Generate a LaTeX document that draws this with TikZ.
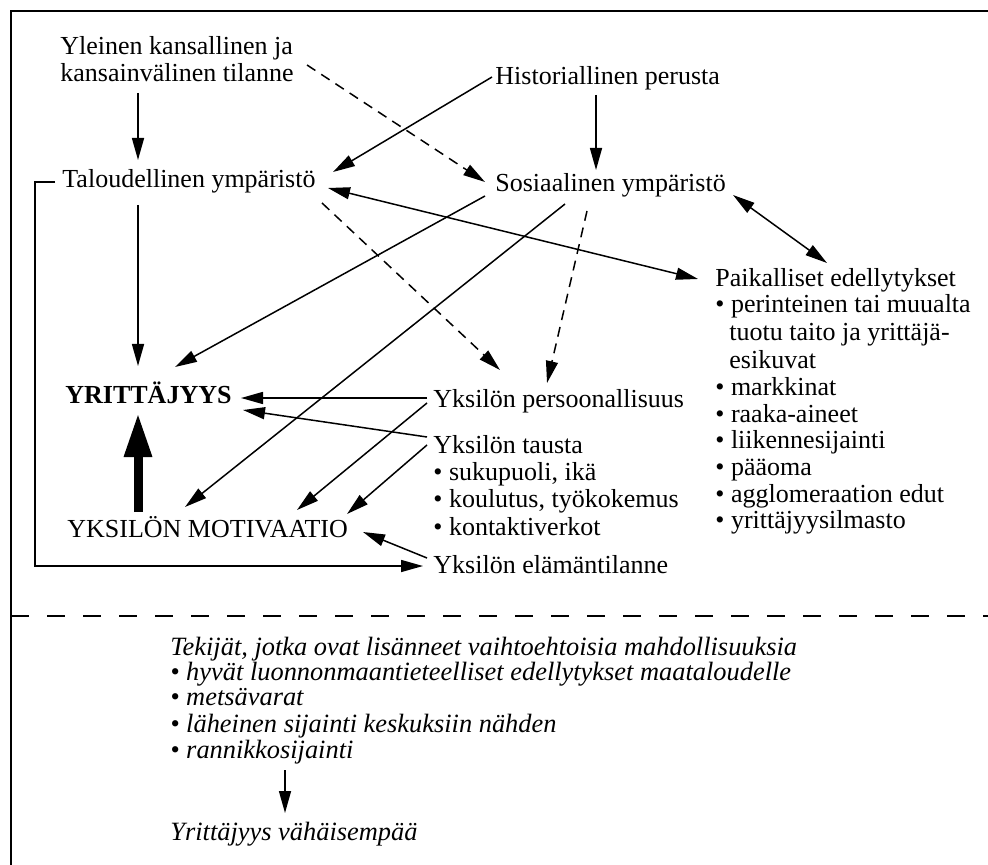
\documentclass[tikz,border=0pt]{standalone}
\usepackage{fontspec}
\setmainfont{Liberation Serif}
\usetikzlibrary{arrows.meta,calc}
\begin{document}
\begin{tikzpicture}[x=0.5pt,y=-0.5pt,
  txt/.style={anchor=base west, inner sep=0pt, font=\fontsize{13pt}{15pt}\selectfont},
  btx/.style={txt, font=\fontsize{13pt}{15pt}\selectfont\bfseries},
  itx/.style={txt, font=\fontsize{13.2pt}{15pt}\selectfont\itshape},
  con/.style={line width=0.75pt, -{Triangle[length=11pt,width=6pt]}},
  dcon/.style={con, dash pattern=on 5pt off 3.5pt},
  both/.style={line width=0.75pt, {Triangle[length=11pt,width=6pt]}-{Triangle[length=11pt,width=6pt]}},
  thick arrow/.style={line width=4.5pt, -{Triangle[length=22pt,width=13pt]}},
  frame/.style={line width=1pt}
]
\useasboundingbox (0,0) rectangle (988,865);
% frame and separator
\draw[frame] (11,865) -- (11,11) -- (988,11);
\draw[frame, dash pattern=on 9pt off 9pt] (11,616) -- (988,616);

% nodes
\node[txt] (yle1) at (60,55) {Yleinen kansallinen ja};
\node[txt] (yle2) at (60,82) {kansainvälinen tilanne};
\node[txt] (hist) at (495,85) {Historiallinen perusta};
\node[txt] (talo) at (62,188) {Taloudellinen ympäristö};
\node[txt] (sos) at (495,192) {Sosiaalinen ympäristö};
\node[txt] (paik) at (715,287) {Paikalliset edellytykset};
\node[txt] (p1) at (715,313) {• perinteinen tai muualta};
\node[txt] (p1b) at (729,341) {tuotu taito ja yrittäjä-};
\node[txt] (p1c) at (729,368) {esikuvat};
\node[txt] (p2) at (715,395) {• markkinat};
\node[txt] (p3) at (715,422) {• raaka-aineet};
\node[txt] (p4) at (715,448) {• liikennesijainti};
\node[txt] (p5) at (715,475) {• pääoma};
\node[txt] (p6) at (715,502) {• agglomeraation edut};
\node[txt] (p7) at (715,528) {• yrittäjyysilmasto};
\node[btx] (yrit) at (65,403) {YRITTÄJYYS};
\node[txt] (mot) at (67,537) {YKSILÖN MOTIVAATIO};
\node[txt] (pers) at (433,408) {Yksilön persoonallisuus};
\node[txt] (taus) at (433,453) {Yksilön tausta};
\node[txt] (t1) at (433,480) {• sukupuoli, ikä};
\node[txt] (t2) at (433,507) {• koulutus, työkokemus};
\node[txt] (t3) at (433,535) {• kontaktiverkot};
\node[txt] (elam) at (433,573) {Yksilön elämäntilanne};

\node[itx] (tek) at (170,655) {Tekijät, jotka ovat lisänneet vaihtoehtoisia mahdollisuuksia};
\node[itx] (b1) at (170,680) {• hyvät luonnonmaantieteelliset edellytykset maataloudelle};
\node[itx] (b2) at (170,705) {• metsävarat};
\node[itx] (b3) at (170,732) {• läheinen sijainti keskuksiin nähden};
\node[itx] (b4) at (170,758) {• rannikkosijainti};
\node[itx] (vah) at (170,840) {Yrittäjyys vähäisempää};

% connectors
\draw[con] ($(yle2.base west)+(78,11)$) -- ($(talo.base west)+(76,-28)$);
\draw[con] ($(hist.base west)+(-3,-8)$) -- ($(talo.base west)+(271,-16)$);
\draw[con] ($(hist.base west)+(101,10)$) -- ($(sos.base west)+(101,-22)$);
\draw[dcon] ($(yle1.base west)+(247,10)$) -- ($(sos.base west)+(-10,-10)$);
\draw[both] ($(talo.base west)+(266,0)$) -- ($(paik.base west)+(-17,-8)$);
\draw[both] ($(sos.base west)+(238,3)$) -- ($(paik.base west)+(112,-24)$);
\draw[con] ($(sos.base west)+(-10,4)$) -- ($(yrit.base west)+(110,-36)$);
\draw[con] ($(sos.base west)+(70,12)$) -- ($(mot.base west)+(118,-30)$);
\draw[con] ($(talo.base west)+(76,17)$) -- ($(yrit.base west)+(73,-37)$);
\draw[dcon] ($(talo.base west)+(260,15)$) -- ($(pers.base west)+(67,-38)$);
\draw[dcon] ($(sos.base west)+(92,19)$) -- ($(pers.base west)+(114,-25)$);
\draw[con] ($(pers.base west)+(-6,-10)$) -- ($(yrit.base west)+(176,-5)$);
\draw[con] ($(taus.base west)+(-6,-16)$) -- ($(yrit.base west)+(178,7)$);
\draw[con] ($(pers.base west)+(-6,-5)$) -- ($(mot.base west)+(230,-27)$);
\draw[con] ($(taus.base west)+(-6,-8)$) -- ($(mot.base west)+(280,-23)$);
\draw[con] ($(elam.base west)+(-6,-15)$) -- ($(mot.base west)+(296,-5)$);
\draw[con] ($(talo.base west)+(-7,-6)$) -- ++(-20,0) |- ($(elam.base west)+(-10,-7)$);
\draw[thick arrow] ($(mot.base west)+(71,-25)$) -- ($(yrit.base west)+(73,10)$);
\draw[con] ($(b4.base west)+(115,12)$) -- ($(vah.base west)+(115,-27)$);
\end{tikzpicture}
\end{document}
